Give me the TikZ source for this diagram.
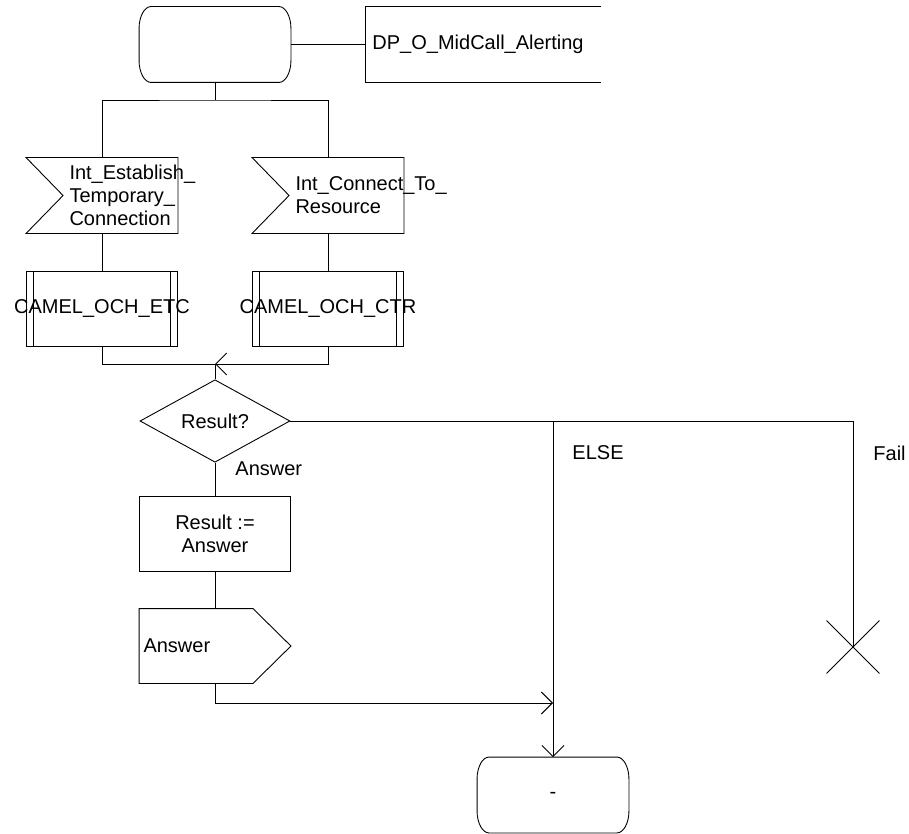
\documentclass[tikz,border=0pt]{standalone}
\usepackage{fontspec}
\setmainfont{Liberation Sans}
\usepackage{tikz}
\usetikzlibrary{positioning, arrows.meta, shapes.geometric, shapes.misc}
\hyphenpenalty=10000
\exhyphenpenalty=10000

\begin{document}
\begin{tikzpicture}[x=1pt,y=-1pt,
  line width=0.9pt,
  every node/.style={font=\fontsize{20}{23}\selectfont},
  state/.style={minimum width=151pt,minimum height=75pt,inner sep=0pt},
  sigin/.style={minimum width=151pt,minimum height=75pt,inner sep=0pt,text width=65pt,align=left},
  sigout/.style={minimum width=151pt,minimum height=74pt,inner xsep=4pt,inner ysep=0pt,text width=143pt,align=left},
  proc/.style={draw,minimum width=151pt,minimum height=75pt,inner sep=0pt,
               path picture={\draw ([xshift=7pt]path picture bounding box.north west) -- ([xshift=7pt]path picture bounding box.south west)
                                   ([xshift=-7pt]path picture bounding box.north east) -- ([xshift=-7pt]path picture bounding box.south east);}},
  task/.style={draw,minimum width=151pt,minimum height=75pt,inner sep=0pt,align=center},
  decision/.style={draw,diamond,minimum width=150pt,minimum height=76pt,inner sep=0pt},
  lbl/.style={anchor=west,inner sep=0pt},
  >={Straight Barb[length=11pt,width=22pt]}]
  \useasboundingbox (0,0) rectangle (909,834);

  % start state and decision point
  \node[state] (start) at (215,44.5) {};
  \node[minimum width=235pt,minimum height=75pt,inner xsep=7pt,text width=221pt,align=left,anchor=west] (dp) at (365,44.5) {DP\_O\_MidCall\_Alerting};
  \draw (dp.north east) -- (dp.north west) -- (dp.south west) -- (dp.south east);
  \draw (start.east) -- (dp.west);
  \coordinate (fork) at (215,100);
  \draw (start.south) -- (fork);

  % internal inputs
  \node[sigin] (in1) at (102,195.5) {Int\_Establish\_\\Temporary\_\\Connection};
  \node[sigin] (in2) at (328,195.5) {Int\_Connect\_To\_\\Resource};
  \foreach \n in {in1,in2}
    \draw (\n.north west) -- (\n.north east) -- (\n.south east) -- (\n.south west) -- ([xshift=37pt]\n.west) -- cycle;
  \draw (in1.north) |- (fork) -| (in2.north);

  % procedures
  \node[proc] (etc) at (102,308.5) {\makebox[0pt]{CAMEL\_OCH\_ETC}};
  \node[proc] (ctr) at (328,308.5) {\makebox[0pt]{CAMEL\_OCH\_CTR}};
  \draw (in1.south) -- (etc.north);
  \draw (in2.south) -- (ctr.north);
  \coordinate (join) at (215,364);
  \draw (etc.south) |- (join);
  \draw[->] (ctr.south) |- (join);

  % result check
  \node[decision] (dec) at (215,421) {Result?};
  \draw (join) -- (dec.north);
  \node[task] (res) at (215,533.5) {Result :=\\Answer};
  \node[sigout] (ans) at (215,646) {Answer};
  \draw (ans.north west) -- ([xshift=-38pt]ans.north east) -- (ans.east) -- ([xshift=-38pt]ans.south east) -- (ans.south west) -- cycle;
  \draw (dec.south) -- (res.north);
  \draw (res.south) -- (ans.north);
  \node[lbl] (lanswer) at (235,469) {Answer};
  \node[lbl] (lelse) at (572,453) {ELSE};
  \node[lbl] (lfail) at (873,453) {Fail};

  % exits
  \node[draw,cross out,minimum size=52pt,inner sep=0pt] (stop) at (853,647) {};
  \node[state] (next) at (553,795) {-};
  \coordinate (merge) at (553,703);
  \draw (dec.east) -| (stop.center);
  \draw (dec.east) -| (merge);
  \draw[->] (ans.south) |- (merge);
  \draw[->] (merge) -- (next.north);

  % state outlines
  \foreach \n in {start,next}
    \draw ([xshift=12pt]\n.north west) -- ([xshift=-12pt]\n.north east)
      .. controls +(6.6pt,0pt) and +(0pt,12pt) .. ([yshift=-22pt]\n.north east)
      -- ([yshift=22pt]\n.south east)
      .. controls +(0pt,-12pt) and +(6.6pt,0pt) .. ([xshift=-12pt]\n.south east)
      -- ([xshift=12pt]\n.south west)
      .. controls +(-6.6pt,0pt) and +(0pt,-12pt) .. ([yshift=22pt]\n.south west)
      -- ([yshift=-22pt]\n.north west)
      .. controls +(0pt,12pt) and +(-6.6pt,0pt) .. cycle;
\end{tikzpicture}
\end{document}
